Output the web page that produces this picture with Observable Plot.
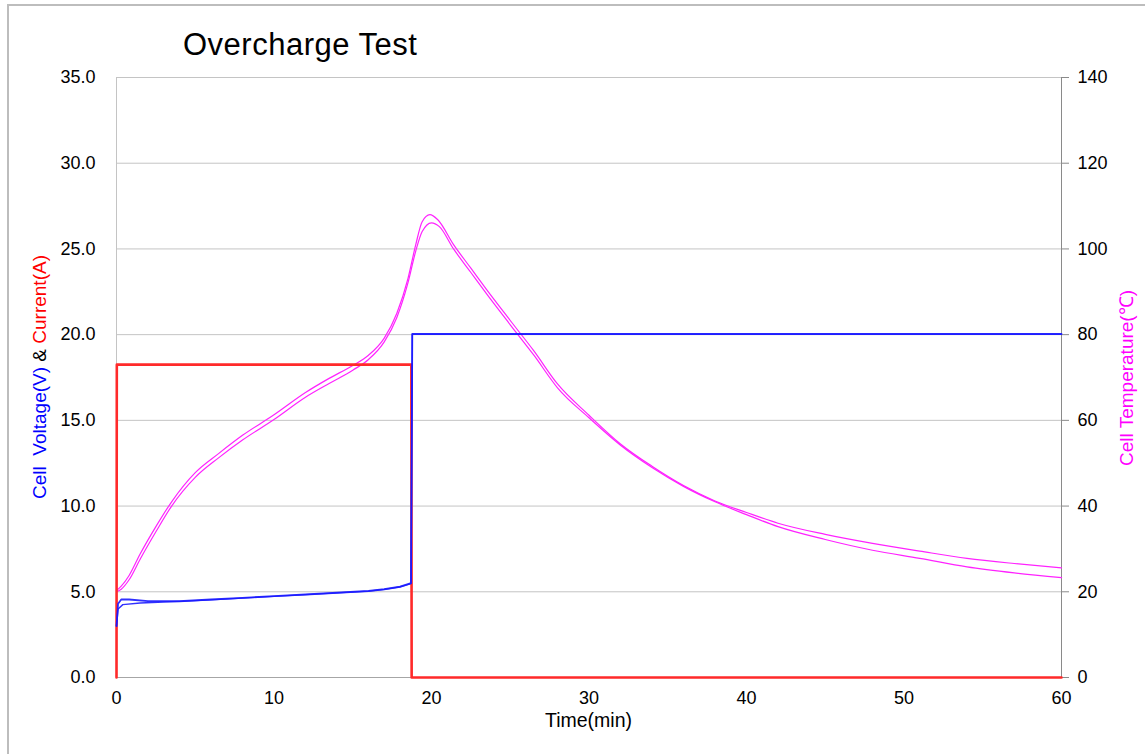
<!DOCTYPE html>
<html><head><meta charset="utf-8">
<script src="https://cdn.jsdelivr.net/npm/d3@7"></script>
<script src="https://cdn.jsdelivr.net/npm/@observablehq/plot@0.6"></script>
<style>
html,body{margin:0;padding:0;background:#fff;overflow:hidden;}
#wrap{position:relative;width:1145px;height:754px;font-family:"Liberation Sans",Arial,sans-serif;}
#chart{position:absolute;left:0;top:0;}
#border{position:absolute;left:7px;top:4px;width:1200px;height:800px;border:2px solid #bdbdbd;pointer-events:none;}
</style></head><body>
<div id="wrap"><div id="chart"></div><div id="border"></div></div>
<script>
// ---- data ----
const xTicks = [0, 10, 20, 30, 40, 50, 60];
const leftTicks = [0, 5, 10, 15, 20, 25, 30, 35];
const rightTickLabels = [0, 20, 40, 60, 80, 100, 120, 140];

// Temperature (°C) vs time (min)
const tempTimeA = [0,0.3,0.8,1.5,2.5,3.5,5,6.5,8,10,12,13.5,15,16,17,17.8,18.5,19,19.4,19.9,20.4,21.4,22.5,23.5,25,26.5,28,30,32,34,36,38,40,42,45,48,51,54,57,60];
const tempA     = [20.3,21.3,23.8,28.8,35.2,41,47.8,52.3,56.5,61.3,66.5,69.8,72.8,75.2,79.2,85,93,101,106.3,108,106.8,101,95.5,90.5,83.3,76.2,68.5,61.2,54.5,49.3,44.8,41.2,38.5,36.0,33.4,31.3,29.5,27.8,26.6,25.6];
const tempTimeB = [0,0.3,0.8,1.5,2.5,3.5,5,6.5,8,10,12,13.5,15,16,17,17.8,18.5,19,19.4,20.0,20.5,21.4,22.5,23.5,25,26.5,28,30,32,34,36,38,40,42,45,48,51,54,57,60];
const tempB     = [20.0,20.6,22.8,27.6,34.0,40,46.7,51.3,55.4,60.2,65.4,68.6,71.7,74.2,78.3,84,92,99.5,104,106.1,105.2,100,94.5,89.5,82.3,75.2,67.6,60.6,54.2,49.0,44.6,41.0,38.0,35.2,32.2,29.7,27.8,25.8,24.4,23.3];

// Cell voltage (V)
const voltTime1 = [0,0.1,0.3,0.8,2,4,6,8,10,12,14,16,17,18,18.7,18.78,60];
const volt1     = [3.0,4.3,4.55,4.55,4.45,4.45,4.55,4.65,4.75,4.85,4.95,5.05,5.15,5.3,5.5,20.05,20.05];
const voltTime2 = [0,0.1,0.4,1.5,3,4,6,8,10,12,14,16,17,18,18.7,18.78,60];
const volt2     = [3.0,4.0,4.25,4.35,4.4,4.43,4.53,4.63,4.73,4.83,4.93,5.03,5.13,5.28,5.48,20.02,20.02];

// Current (A)
const currTime = [0,0.02,18.72,18.74,60];
const curr     = [0,18.25,18.25,0,0];

// ---- build ----
const yMax = 35, tMax = 140, ratio = tMax / yMax;
const series = (ts, vs, k = 1) => ts.map((t, i) => ({t, y: vs[i] / k}));
const TA = series(tempTimeA, tempA, ratio);
const TB = series(tempTimeB, tempB, ratio);
const V1 = series(voltTime1, volt1);
const V2 = series(voltTime2, volt2);
const C1 = series(currTime, curr);

const W = 1145, H = 754;
const font = '"Liberation Sans", Arial, sans-serif';

const chart = Plot.plot({
  width: W, height: H,
  marginLeft: 116, marginRight: 84, marginTop: 77, marginBottom: 77,
  style: {background: "transparent", fontFamily: font, color: "#000"},
  x: {domain: [0, 60]},
  y: {domain: [0, yMax]},
  marks: [
    Plot.gridY(leftTicks, {stroke: "#c4c4c4", strokeOpacity: 1}),
    Plot.ruleX([0], {stroke: "#c4c4c4"}),
    Plot.ruleY([0], {stroke: "#a6a6a6"}),
    Plot.ruleX([60], {stroke: "#8a8a8a"}),
    Plot.axisX(xTicks, {tickSize: 0, tickPadding: 14, fontSize: 18, label: null}),
    Plot.axisY(leftTicks, {anchor: "left", tickSize: 0, tickPadding: 21, fontSize: 18, tickFormat: d3.format(".1f"), label: null}),
    Plot.axisY(leftTicks, {anchor: "right", tickSize: 7, tickPadding: 9, stroke: "#8a8a8a", fontSize: 18, tickFormat: (d, i) => rightTickLabels[i], label: null}),
    Plot.line(TA, {x: "t", y: "y", stroke: "#ff22ff", strokeWidth: 1.2, curve: "monotone-x"}),
    Plot.line(TB, {x: "t", y: "y", stroke: "#ff22ff", strokeWidth: 1.2, curve: "monotone-x"}),
    Plot.line(C1, {x: "t", y: "y", stroke: "#ff2a2a", strokeWidth: 2.6}),
    Plot.line(V2, {x: "t", y: "y", stroke: "#1a1aff", strokeWidth: 1.4, strokeOpacity: 0.9}),
    Plot.line(V1, {x: "t", y: "y", stroke: "#1a1aff", strokeWidth: 1.8, strokeOpacity: 0.9})
  ]
});
document.getElementById("chart").appendChild(chart);

const svg = d3.select(chart);
svg.append("text").attr("x", 183).attr("y", 55).attr("font-size", 31).attr("text-anchor", "start")
  .attr("letter-spacing", 0.5).attr("fill", "#000").style("font-family", font).text("Overcharge Test");
svg.append("text").attr("x", 588.5).attr("y", 727).attr("font-size", 19.5).attr("text-anchor", "middle")
  .attr("fill", "#000").style("font-family", font).text("Time(min)");
const lt = svg.append("text").attr("transform", "translate(46,377) rotate(-90)").attr("font-size", 19)
  .attr("text-anchor", "middle").attr("xml:space", "preserve").style("white-space", "pre").style("font-family", font);
lt.append("tspan").attr("fill", "#0000ff").text("Cell  Voltage(V)");
lt.append("tspan").attr("fill", "#000").text(" & ");
lt.append("tspan").attr("fill", "#ff0000").text("Current(A)");
svg.append("text").attr("transform", "translate(1133,378) rotate(-90)").attr("font-size", 19)
  .attr("text-anchor", "middle").attr("fill", "#ff00ff").style("font-family", font).text("Cell Temperature(℃)");
</script>
</body></html>
